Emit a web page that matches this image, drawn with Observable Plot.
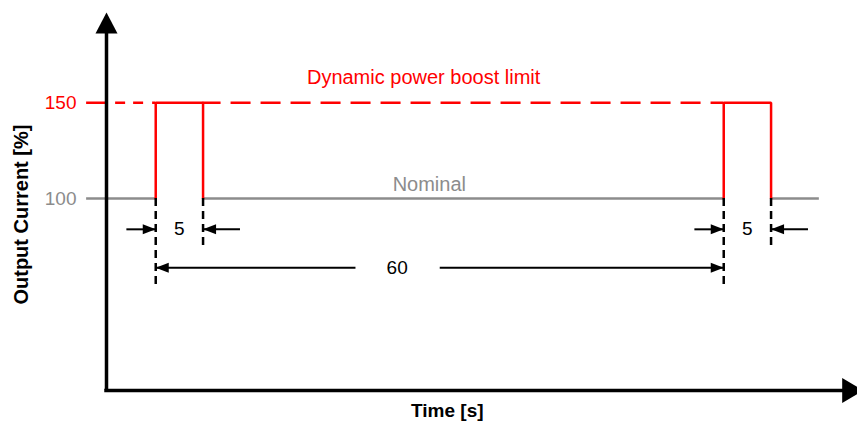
<!DOCTYPE html>
<html>
<head>
<meta charset="utf-8">
<script src="https://cdn.jsdelivr.net/npm/d3@7"></script>
<script src="https://cdn.jsdelivr.net/npm/@observablehq/plot@0.6"></script>
<style>
  html, body { margin: 0; padding: 0; background: #fff; overflow: hidden; }
  #chart svg { display: block; }
</style>
</head>
<body>
<div id="chart"></div>
<script>
// ---- data ----
const pulseStarts = [5.2, 65.2];      // s
const pulseWidth = 5;                 // s
const nominalLevel = 100;             // %
const boostLevel = 150;               // %
const yTickValues = [100, 150];
const yTickColors = ["#8c8c8c", "#ff0000"];
const lineStart = -2.1;               // s (lines start left of the y axis)
const nominalEnd = 75.3;              // s
const xMax = 79.33;                   // s (x axis extent)
const yMax = 197;                     // % (y axis extent)
const widthDimLevel = 84;             // % (height of the "5" dimension arrows)
const periodDimLevel = 64;            // % (height of the "60" dimension arrows)
const longExtEnd = 53;                // % (bottom of extension lines at pulse starts)
const shortExtEnd = 74.5;             // % (bottom of extension lines at pulse ends)
const widthArrowTailBefore = 3.1;     // s
const widthArrowTailAfter = 3.9;      // s
const periodGap = [26.3, 35.2];       // s (gap around the "60" label)
const periodLabelX = 30.7;            // s
const periodLabel = "60";
const widthLabel = "5";
const boostText = "Dynamic power boost limit";
const boostTextPos = [33.5, 163];
const nominalText = "Nominal";
const nominalTextPos = [34.1, 107.3];
const xLabel = "Time [s]";
const xLabelPos = [36, -10.5];
const yLabel = "Output Current [%]";
const yLabelPos = [-9, 91.7];

// ---- derived tables ----
const red = "#ff0000", gray = "#8c8c8c";
const t0 = pulseStarts[0], t1 = pulseStarts[1];
const pulsePts = pulseStarts.flatMap(s => [
  {x: s, y: nominalLevel, p: s}, {x: s, y: boostLevel, p: s},
  {x: s + pulseWidth, y: boostLevel, p: s}, {x: s + pulseWidth, y: nominalLevel, p: s}
]);
const nominalSegs = [
  {x1: lineStart, x2: t0},
  {x1: t0 + pulseWidth, x2: t1},
  {x1: t1 + pulseWidth, x2: nominalEnd}
];
const extLines = pulseStarts.flatMap(s => [
  {x: s, y2: longExtEnd}, {x: s + pulseWidth, y2: shortExtEnd}
]);
const widthLinks = pulseStarts.flatMap(s => [
  {x1: s - widthArrowTailBefore, x2: s},
  {x1: s + pulseWidth + widthArrowTailAfter, x2: s + pulseWidth}
]);
const periodLinks = [{x1: t0, x2: periodGap[0]}, {x1: periodGap[1], x2: t1}];
const smallHeads = [
  ...pulseStarts.flatMap(s => [
    {x: s, y: widthDimLevel, r: 90},
    {x: s + pulseWidth, y: widthDimLevel, r: -90}
  ]),
  {x: t0, y: periodDimLevel, r: -90},
  {x: t1, y: periodDimLevel, r: 90}
];
const widthLabels = pulseStarts.map(s => ({x: s + pulseWidth / 2, y: widthDimLevel}));

const bigHead = {draw(ctx) { ctx.moveTo(0, 0); ctx.lineTo(11, 21); ctx.lineTo(-11, 21); ctx.closePath(); }};
const bigHeadX = {draw(ctx) { ctx.moveTo(0, 0); ctx.lineTo(12.5, 21); ctx.lineTo(-12.5, 21); ctx.closePath(); }};
const smallHead = {draw(ctx) { ctx.moveTo(0, 0); ctx.lineTo(5, 13); ctx.lineTo(-5, 13); ctx.closePath(); }};

const font = "'Liberation Sans', Arial, sans-serif";

const chart = Plot.plot({
  width: 857,
  height: 423,
  marginLeft: 106,
  marginRight: 0,
  marginTop: 12,
  marginBottom: 33,
  style: {fontFamily: font, background: "#fff", overflow: "hidden"},
  x: {domain: [0, xMax], axis: null},
  y: {domain: [0, yMax], axis: null},
  marks: [
    // nominal gray line
    Plot.ruleY(nominalSegs, {y: nominalLevel, x1: "x1", x2: "x2", stroke: gray, strokeWidth: 2.5}),
    // dashed boost limit
    Plot.ruleY([{x1: lineStart, x2: t0}], {y: boostLevel, x1: "x1", x2: "x2", stroke: red, strokeWidth: 2.5,
      strokeDasharray: "21,8,10,8,10,9,300"}),
    Plot.ruleY([{x1: t0 + pulseWidth, x2: t1}], {y: boostLevel, x1: "x1", x2: "x2", stroke: red, strokeWidth: 2.5,
      strokeDasharray: "20,10", strokeDashoffset: 2}),
    // pulses
    Plot.line(pulsePts, {x: "x", y: "y", z: "p", stroke: red, strokeWidth: 2.5, strokeLinejoin: "miter"}),
    // extension lines
    Plot.ruleX(extLines, {x: "x", y1: nominalLevel, y2: "y2", stroke: "#000", strokeWidth: 2.5, strokeDasharray: "8,5"}),
    // dimension lines
    Plot.link(widthLinks, {x1: "x1", x2: "x2", y1: widthDimLevel, y2: widthDimLevel, stroke: "#000", strokeWidth: 2}),
    Plot.link(periodLinks, {x1: "x1", x2: "x2", y1: periodDimLevel, y2: periodDimLevel, stroke: "#000", strokeWidth: 2}),
    Plot.dot(smallHeads, {x: "x", y: "y", rotate: "r", symbol: smallHead, fill: "#000", stroke: "none"}),
    // axes
    Plot.ruleX([0], {y1: 0, y2: yMax - 5, stroke: "#000", strokeWidth: 3.5}),
    Plot.ruleY([0], {x1: 0, x2: xMax, stroke: "#000", strokeWidth: 3.5, strokeLinecap: "square"}),
    Plot.dot([{x: 0, y: yMax}], {x: "x", y: "y", symbol: bigHead, fill: "#000", stroke: "none"}),
    Plot.dot([{x: xMax + 0.6, y: 0}], {x: "x", y: "y", rotate: 90, symbol: bigHeadX, fill: "#000", stroke: "none"}),
    // y tick labels
    Plot.text(yTickValues, {x: 0, y: d => d, text: d => String(d), dx: -30, textAnchor: "end",
      fill: (d, i) => yTickColors[i], fontSize: 19}),
    // annotations
    Plot.text([boostText], {x: boostTextPos[0], y: boostTextPos[1], fill: red, fontSize: 20}),
    Plot.text([nominalText], {x: nominalTextPos[0], y: nominalTextPos[1], fill: gray, fontSize: 20}),
    Plot.text(widthLabels, {x: "x", y: "y", text: () => widthLabel, fill: "#000", fontSize: 19}),
    Plot.text([periodLabel], {x: periodLabelX, y: periodDimLevel, fill: "#000", fontSize: 19}),
    // axis labels
    Plot.text([xLabel], {x: xLabelPos[0], y: xLabelPos[1], fontWeight: "bold", fontSize: 19, fill: "#000"}),
    Plot.text([yLabel], {x: yLabelPos[0], y: yLabelPos[1], rotate: -90, fontWeight: "bold", fontSize: 20, fill: "#000"})
  ]
});
document.getElementById("chart").appendChild(chart);
</script>
</body>
</html>
